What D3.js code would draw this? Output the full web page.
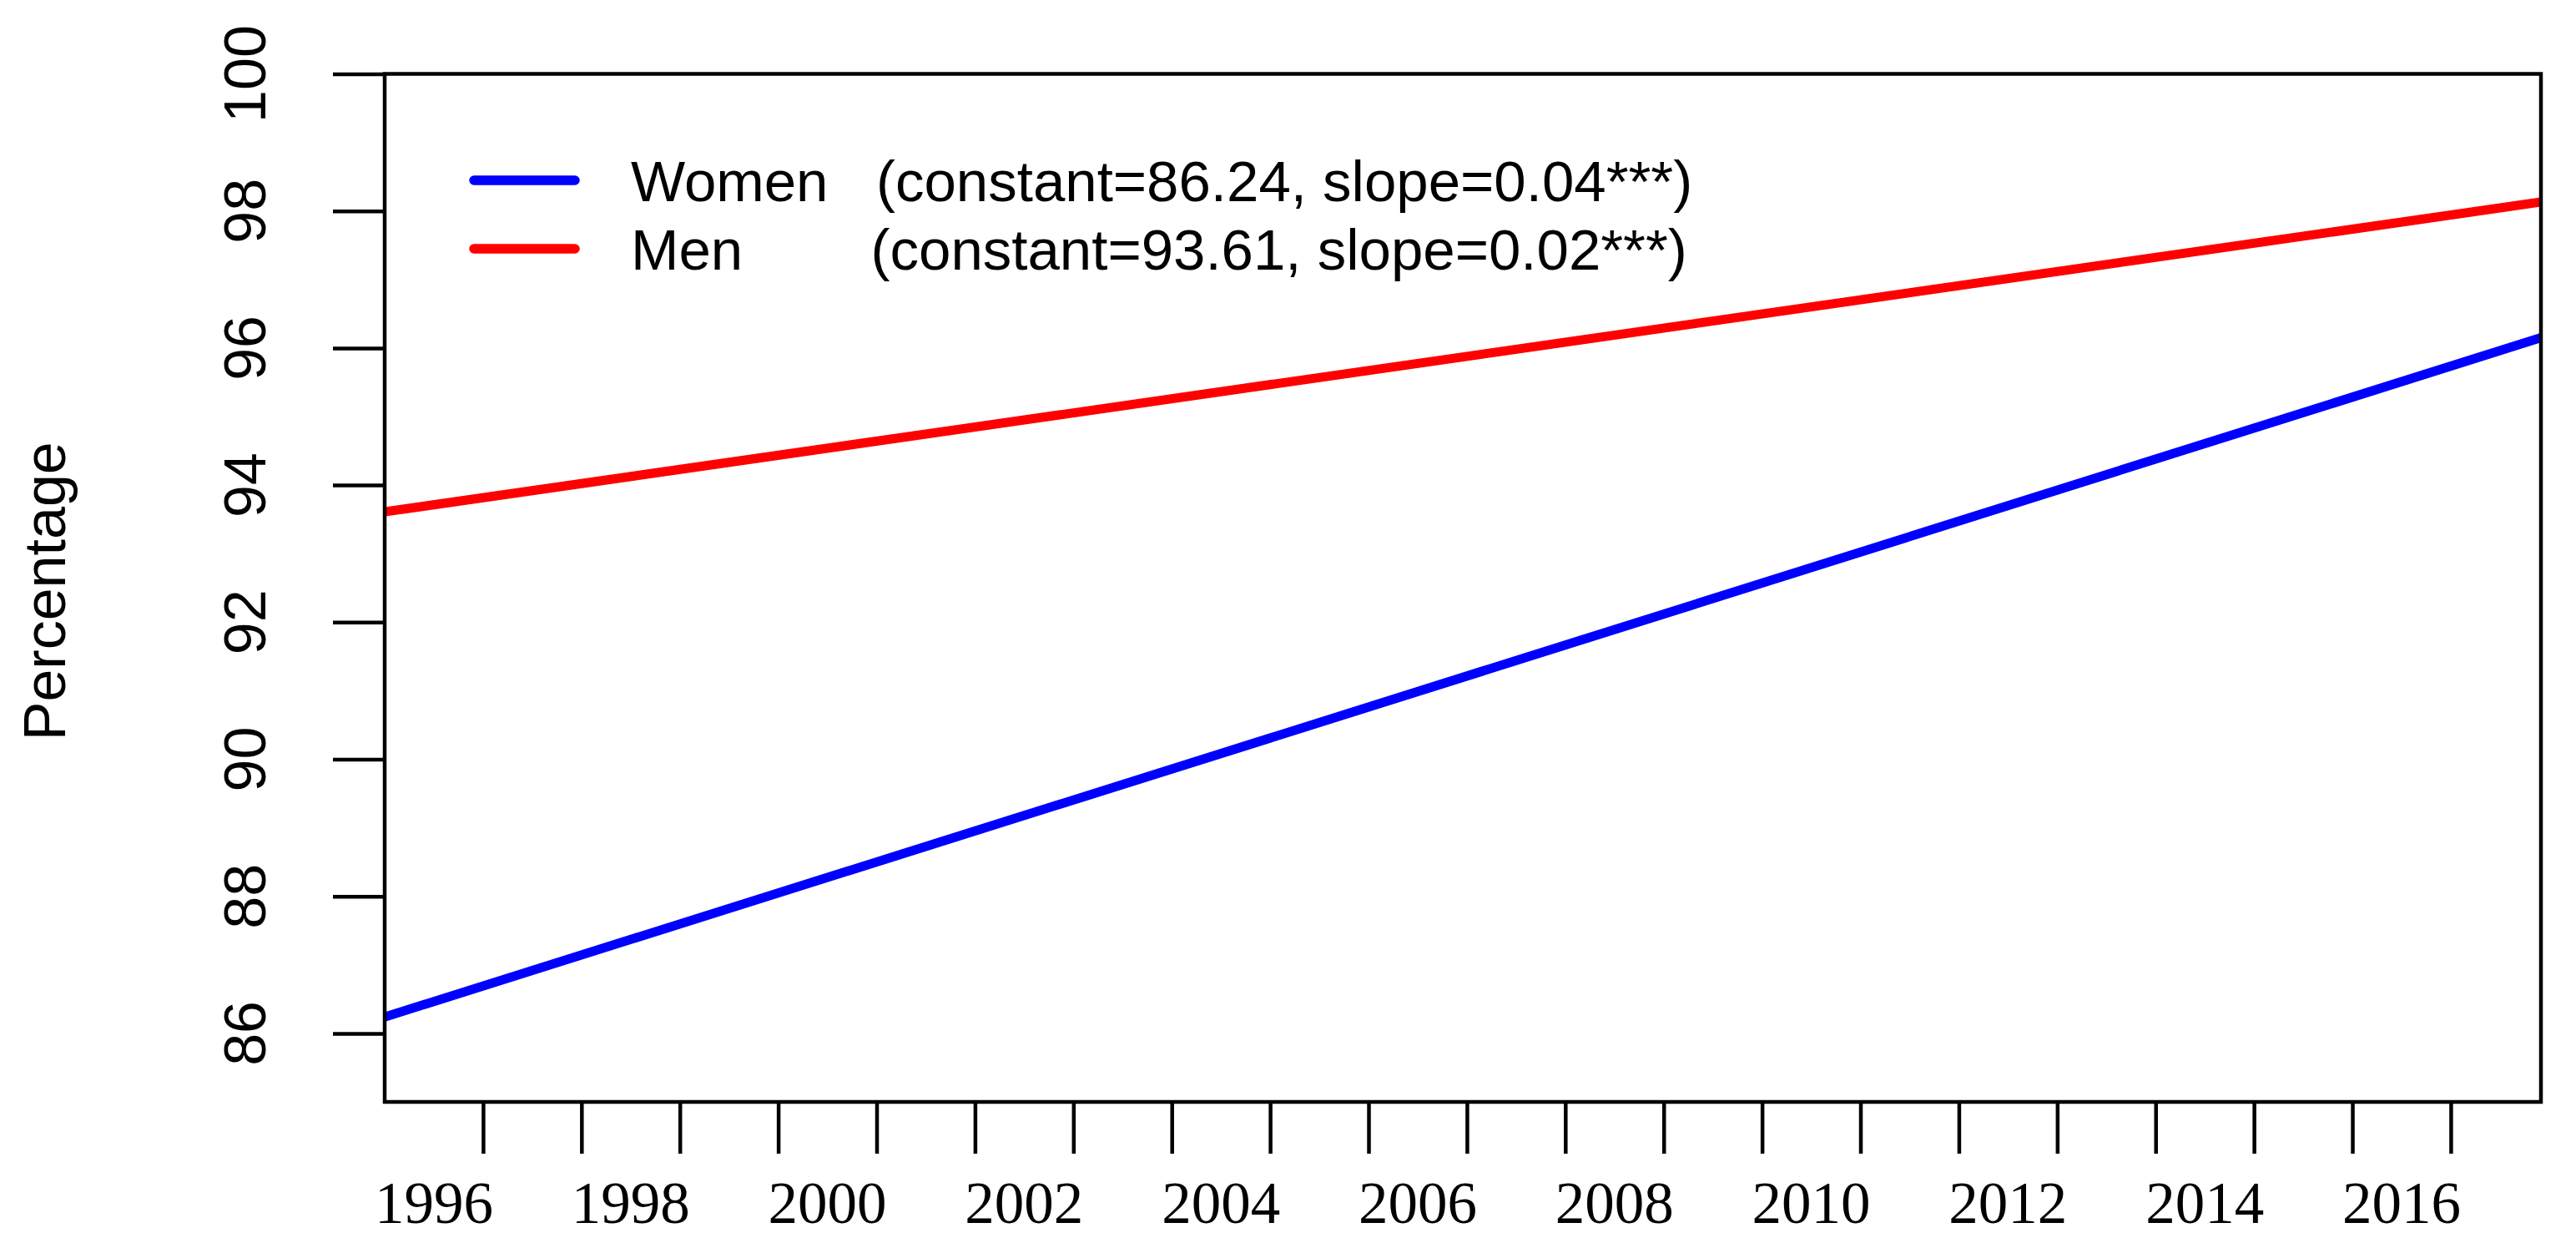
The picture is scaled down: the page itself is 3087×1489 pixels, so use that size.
<!DOCTYPE html>
<html>
<head>
<meta charset="utf-8">
<script src="https://cdn.jsdelivr.net/npm/d3@7"></script>
<style>
  html, body { margin: 0; padding: 0; background: #fff; }
  svg { display: block; }
  text { white-space: pre; }
</style>
</head>
<body>
<script>
// chart data
var months = ["1996-01", "2017-12"];        // first and last month of the fitted lines
var womenFit = [86.24, 96.15];
var menFit = [93.61, 98.13];
var seriesNames = ["Women", "Men"];
var seriesNotes = ["   (constant=86.24, slope=0.04***)", "        (constant=93.61, slope=0.02***)"];
var seriesColors = ["#0000ff", "#ff0000"];
var yTicks = [86, 88, 90, 92, 94, 96, 98, 100];
var xLabels = ["1996", "1998", "2000", "2002", "2004", "2006", "2008", "2010", "2012", "2014", "2016"];

var width = 3087;
var height = 1489;
// plot box edges (note: "top" is taken by window.top, so keep these prefixed)
var boxL = 461, boxR = 3045, boxT = 88.5, boxB = 1320;

// turn "yyyy-mm" into a decimal year
function toYear(s) {
  var p = s.split("-");
  return +p[0] + (+p[1] - 1) / 12;
}

var svg = d3.select("body").append("svg")
  .attr("width", width)
  .attr("height", height);

var x = d3.scaleLinear()
  .domain(d3.extent(months, toYear))
  .range([boxL, boxR]);

var y = d3.scaleLinear()
  .domain([85, 100])
  .range([boxB, boxT]);

// y axis: ticks outward, labels turned on their side
var yAxis = svg.append("g")
  .attr("transform", "translate(" + boxL + ",0)")
  .call(d3.axisLeft(y).tickValues(yTicks).tickSize(62).tickSizeOuter(0).tickFormat(""));
yAxis.select(".domain").remove();
yAxis.selectAll(".tick line").attr("stroke", "#000").attr("stroke-width", 4.5);

svg.append("g").selectAll("text").data(yTicks)
  .enter().append("text")
  .attr("transform", function(d) { return "translate(318," + y(d) + ") rotate(-90)"; })
  .attr("text-anchor", "middle")
  .attr("font-family", "'Liberation Sans', Arial, sans-serif")
  .attr("font-size", 70)
  .text(function(d) { return d; });

// x axis: a tick at every year boundary, labels in the middle of even years
var xAxis = svg.append("g")
  .attr("transform", "translate(0," + boxB + ")")
  .call(d3.axisBottom(x).tickValues(d3.range(1997, 2018)).tickSize(62).tickSizeOuter(0).tickFormat(""));
xAxis.select(".domain").remove();
xAxis.selectAll(".tick line").attr("stroke", "#000").attr("stroke-width", 4.5);

svg.append("g").selectAll("text").data(xLabels)
  .enter().append("text")
  .attr("x", function(d) { return x(+d + 0.5); })
  .attr("y", 1465)
  .attr("text-anchor", "middle")
  .attr("font-family", "'Liberation Serif', 'Times New Roman', serif")
  .attr("font-size", 71)
  .text(function(d) { return d; });

// axis title
svg.append("text")
  .attr("transform", "translate(78," + ((boxT + boxB) / 2 + 4) + ") rotate(-90)")
  .attr("text-anchor", "middle")
  .attr("font-family", "'Liberation Sans', Arial, sans-serif")
  .attr("font-size", 70)
  .text("Percentage");

// fitted lines, clipped to the plot box
svg.append("clipPath").attr("id", "plotclip")
  .append("rect")
  .attr("x", boxL).attr("y", boxT)
  .attr("width", boxR - boxL).attr("height", boxB - boxT);

var line = d3.line()
  .x(function(d) { return x(toYear(d[0])); })
  .y(function(d) { return y(d[1]); });

var series = [d3.zip(months, womenFit), d3.zip(months, menFit)];

svg.append("g").attr("clip-path", "url(#plotclip)")
  .selectAll("path").data(series)
  .enter().append("path")
  .attr("d", line)
  .attr("fill", "none")
  .attr("stroke", function(d, i) { return seriesColors[i]; })
  .attr("stroke-width", 11)
  .attr("stroke-linecap", "round");

// plot box
svg.append("rect")
  .attr("x", boxL).attr("y", boxT)
  .attr("width", boxR - boxL).attr("height", boxB - boxT)
  .attr("fill", "none")
  .attr("stroke", "#000")
  .attr("stroke-width", 4.5);

// legend
var legend = svg.append("g").selectAll("g").data(seriesNames)
  .enter().append("g")
  .attr("transform", function(d, i) { return "translate(0," + (216 + i * 82) + ")"; });

legend.append("line")
  .attr("x1", 568).attr("x2", 689)
  .attr("stroke", function(d, i) { return seriesColors[i]; })
  .attr("stroke-width", 11.5)
  .attr("stroke-linecap", "round");

legend.append("text")
  .attr("x", 756)
  .attr("y", 25)
  .attr("font-family", "'Liberation Sans', Arial, sans-serif")
  .attr("font-size", 69)
  .text(function(d, i) { return d + seriesNotes[i]; });
</script>
</body>
</html>
